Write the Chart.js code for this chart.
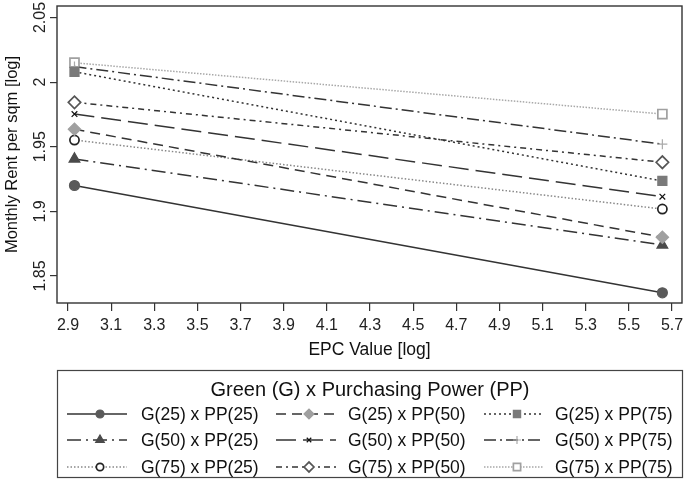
<!DOCTYPE html>
<html>
<head>
<meta charset="utf-8">
<script src="https://cdn.jsdelivr.net/npm/chart.js@4"></script>
<style>
  html, body { margin: 0; padding: 0; background: #fff; }
  #wrap { width: 685px; height: 482px; }
</style>
</head>
<body>
<div id="wrap"><canvas id="chart" width="685" height="482"></canvas></div>
<script>
// data
const epcValues = [2.93, 5.655]
const xTicks = [2.9, 3.1, 3.3, 3.5, 3.7, 3.9, 4.1, 4.3, 4.5, 4.7, 4.9, 5.1, 5.3, 5.5, 5.7]
const yTicks = [1.85, 1.9, 1.95, 2, 2.05]

const seriesNames = [
    'G(25) x PP(25)', 'G(25) x PP(50)', 'G(25) x PP(75)',
    'G(50) x PP(25)', 'G(50) x PP(50)', 'G(50) x PP(75)',
    'G(75) x PP(25)', 'G(75) x PP(50)', 'G(75) x PP(75)'
]
const g25pp25 = [1.920, 1.837]
const g25pp50 = [1.9635, 1.880]
const g25pp75 = [2.008, 1.9235]
const g50pp25 = [1.9405, 1.874]
const g50pp50 = [1.9753, 1.9114]
const g50pp75 = [2.012, 1.952]
const g75pp25 = [1.9552, 1.9018]
const g75pp50 = [1.9844, 1.938]
const g75pp75 = [2.015, 1.9753]

const FONT = '"Liberation Sans", Arial, sans-serif'

// styles per series (same order as seriesNames)
const styles = [
    {line: '#333', dash: [], point: 'circle', r: 5, fill: '#5a5a5a', edge: '#5a5a5a'},
    {line: '#333', dash: [10, 6], point: 'rectRot', r: 6.2, fill: '#a0a0a0', edge: '#a0a0a0'},
    {line: '#333', dash: [2, 3], point: 'rect', r: 6.4, fill: '#7a7a7a', edge: '#7a7a7a'},
    {line: '#333', dash: [14, 5, 2, 5], point: 'triangle', r: 6.2, fill: '#4a4a4a', edge: '#4a4a4a'},
    {line: '#333', dash: [20, 7], point: 'crossRot', r: 4, fill: '#111', edge: '#111'},
    {line: '#333', dash: [12, 4, 2, 4], point: 'cross', r: 5, fill: '#aaa', edge: '#aaa'},
    {line: '#888', dash: [1.5, 2], point: 'circle', r: 4.6, fill: '#fff', edge: '#222'},
    {line: '#333', dash: [6, 4, 2, 4], point: 'rectRot', r: 6.2, fill: '#fff', edge: '#555'},
    {line: '#a8a8a8', dash: [1.5, 1.5], point: 'rect', r: 6.4, fill: '#fff', edge: '#a0a0a0'}
]
const seriesValues = [g25pp25, g25pp50, g25pp75, g50pp25, g50pp50, g50pp75, g75pp25, g75pp50, g75pp75]

const datasets = seriesValues.map(function (vals, i) {
    const s = styles[i]
    return {
        label: seriesNames[i],
        data: vals.map((v, k) => ({x: epcValues[k], y: v})),
        borderColor: s.line,
        borderWidth: 1.5,
        borderDash: s.dash,
        pointStyle: s.point,
        pointRadius: s.r,
        pointBackgroundColor: s.fill,
        pointBorderColor: s.edge,
        pointBorderWidth: s.fill === '#fff' ? 1.7 : 1.2,
        fill: false,
        tension: 0
    }
})

// frame round the plot area
const framePlugin = {
    id: 'frame',
    beforeDatasetsDraw(chart) {
        const a = chart.chartArea
        const ctx = chart.ctx
        ctx.save()
        ctx.strokeStyle = '#333'
        ctx.lineWidth = 1.4
        ctx.strokeRect(a.left, a.top, a.right - a.left, a.bottom - a.top)
        ctx.restore()
    }
}

// y tick labels are written vertically, as in the reference
const yLabelPlugin = {
    id: 'yLabels',
    afterDraw(chart) {
        const ctx = chart.ctx
        const y = chart.scales.y
        ctx.save()
        ctx.fillStyle = '#222'
        ctx.font = '16px ' + FONT
        ctx.textAlign = 'center'
        ctx.textBaseline = 'middle'
        yTicks.forEach(function (v) {
            ctx.save()
            ctx.translate(41, y.getPixelForValue(v))
            ctx.rotate(-Math.PI / 2)
            ctx.fillText(String(v), 0, 0)
            ctx.restore()
        })
        ctx.restore()
    }
}

// legend box under the plot: line sample + marker + label, 3 columns
const legendPlugin = {
    id: 'boxLegend',
    afterDraw(chart) {
        const ctx = chart.ctx
        const colSample = [67, 276, 484]
        const sampleLen = 60
        const colText = [141, 348, 555]
        const rows = [414, 440, 467]
        ctx.save()
        ctx.strokeStyle = '#444'
        ctx.lineWidth = 1.2
        ctx.strokeRect(57.5, 370.5, 625, 107)
        ctx.fillStyle = '#111'
        ctx.font = '20px ' + FONT
        ctx.textAlign = 'center'
        ctx.textBaseline = 'middle'
        ctx.fillText('Green (G) x Purchasing Power (PP)', 370, 390)

        ctx.font = '17.5px ' + FONT
        ctx.textAlign = 'left'
        chart.data.datasets.forEach(function (ds, i) {
            const col = i % 3
            const row = Math.floor(i / 3)
            const y = rows[row]
            const x0 = colSample[col]
            ctx.save()
            ctx.strokeStyle = ds.borderColor
            ctx.lineWidth = ds.borderWidth
            ctx.setLineDash(ds.borderDash)
            ctx.beginPath()
            ctx.moveTo(x0, y)
            ctx.lineTo(x0 + sampleLen, y)
            ctx.stroke()
            ctx.setLineDash([])
            ctx.fillStyle = ds.pointBackgroundColor
            ctx.strokeStyle = ds.pointBorderColor
            ctx.lineWidth = ds.pointBorderWidth
            Chart.helpers.drawPoint(ctx, {
                pointStyle: ds.pointStyle,
                radius: ds.pointRadius * 0.8,
                rotation: 0,
                borderWidth: ds.pointBorderWidth
            }, x0 + sampleLen / 2 + 3, y)
            ctx.restore()
            ctx.fillStyle = '#111'
            ctx.fillText(ds.label, colText[col], y + 1)
        })
        ctx.restore()
    }
}

new Chart(document.getElementById('chart'), {
    type: 'line',
    data: {datasets: datasets},
    plugins: [framePlugin, yLabelPlugin, legendPlugin],
    options: {
        responsive: false,
        animation: false,
        layout: {autoPadding: false, padding: {top: 6, right: 3, bottom: 119, left: 0}},
        plugins: {
            legend: {display: false},
            tooltip: {enabled: false}
        },
        scales: {
            x: {
                type: 'linear',
                min: 2.849,
                max: 5.746,
                afterBuildTicks: function (scale) {
                    scale.ticks = xTicks.map(v => ({value: v}))
                },
                afterFit: function (scale) {
                    scale.height = 60
                    scale.paddingLeft = 0
                    scale.paddingRight = 0
                },
                ticks: {
                    color: '#222',
                    font: {family: FONT, size: 16},
                    padding: 5,
                    maxRotation: 0,
                    callback: v => v.toFixed(1)
                },
                grid: {drawOnChartArea: false, drawTicks: true, tickLength: 8, color: '#333', lineWidth: 1.2},
                border: {display: false},
                title: {
                    display: true,
                    text: 'EPC Value [log]',
                    color: '#111',
                    font: {family: FONT, size: 17.5},
                    padding: {top: 2, bottom: 2}
                }
            },
            y: {
                type: 'linear',
                min: 1.8291,
                max: 2.0589,
                afterBuildTicks: function (scale) {
                    scale.ticks = yTicks.map(v => ({value: v}))
                },
                afterFit: function (scale) {
                    scale.width = 57
                    scale.paddingTop = 0
                    scale.paddingBottom = 0
                },
                ticks: {display: false},
                grid: {drawOnChartArea: false, drawTicks: true, tickLength: 7, color: '#333', lineWidth: 1.2},
                border: {display: false},
                title: {
                    display: true,
                    text: 'Monthly Rent per sqm [log]',
                    color: '#111',
                    font: {family: FONT, size: 16.5},
                    padding: {top: 3, bottom: 0}
                }
            }
        }
    }
})
</script>
</body>
</html>
